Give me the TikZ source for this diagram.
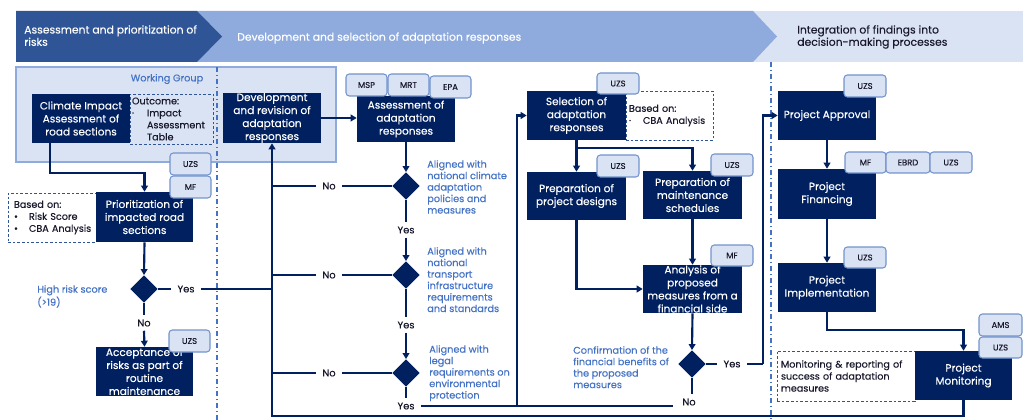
\documentclass[tikz,border=0pt]{standalone}
\usepackage{fontspec}
\setmainfont{Poppins}[FakeBold=0.25]
\usetikzlibrary{arrows.meta,shapes.geometric}
\newlength\pxu
\setlength\pxu{0.75pt}
\definecolor{navy}{RGB}{0,32,96}
\definecolor{bandA}{RGB}{47,85,151}
\definecolor{bandB}{RGB}{143,170,220}
\definecolor{bandC}{RGB}{218,227,243}
\definecolor{tagline}{RGB}{114,147,205}
\definecolor{lblue}{RGB}{68,114,196}
\definecolor{ink}{RGB}{25,25,45}
\newcommand\bxf{\fontsize{7.9}{9.75}\selectfont}
\newcommand\dbf{\fontsize{7.2}{9}\selectfont}
\newcommand\tgf{\fontsize{6.3}{7}\selectfont}
\newcommand\lbf{\fontsize{7.3}{8.6}\selectfont}
\newcommand\ynf{\fontsize{7.4}{8}\selectfont}
\newcommand\hdf{\fontsize{8.1}{9.2}\selectfont}
\hyphenpenalty=10000
\exhyphenpenalty=10000
\begin{document}
\begin{tikzpicture}[x=0.75pt,y=-0.75pt,
  rect/.style args={#1/#2/#3/#4}{minimum width={(#3-#1)*0.75pt}, minimum height={(#4-#2)*0.75pt}, at={({(#1+#3)/2},{(#2+#4)/2})}},
  box/.style={fill=navy, text=white, inner sep=0pt, align=center, font=\bxf},
  tag/.style={fill=bandC, draw=tagline, line width=0.8pt, rounded corners=2.5pt, inner sep=0pt, font=\tgf, text=ink},
  dbox/.style={draw=bandA, dash pattern=on 2pt off 1.5pt, line width=0.6pt, inner sep=0pt, align=left, text=ink, font=\dbf},
  dia/.style={diamond, fill=navy, minimum width=20.5pt, minimum height=20.5pt, inner sep=0pt},
  lbl/.style={text=lblue, font=\lbf, align=left, anchor=north west, inner sep=0pt},
  yn/.style={text=ink, font=\ynf, inner xsep=4.5pt, inner ysep=3pt},
  hdr/.style={font=\hdf, align=left, inner sep=0pt},
  ln/.style={draw=navy, line width=1.6pt},
  arr/.style={ln, -{Triangle[length=4.5pt,width=5pt]}},
  sep/.style={draw=lblue, line width=1pt, dash pattern=on 4pt off 2pt on 1pt off 2pt}
]
\useasboundingbox (0,0) rectangle (1023,420);
% banners
\fill[bandC] (740,11) rectangle (1023,62);
\fill[bandB] (197,11) -- (753,11) -- (777,36.5) -- (753,62) -- (197,62) -- cycle;
\fill[bandA] (16,11) -- (197,11) -- (222,36.5) -- (197,62) -- (16,62) -- cycle;
\node[hdr, text=white, anchor=north west] (h1) at (24,25) {Assessment and prioritization of\\risks};
\node[hdr, text=white, anchor=west] (h2) at (237,38) {Development and selection of adaptation responses};
\node[hdr, text=ink, anchor=north west] (h3) at (797,25) {Integration of findings into\\decision-making processes};
% working group
\draw[fill=bandC, draw=bandB, line width=1pt] (16,67) rectangle (336,162);
\node[text=lblue, font=\lbf, inner sep=0pt] (wg) at (167,79) {Working Group};
\draw[sep] (217,67) -- (217,420);
\draw[sep] (771,62) -- (771,420);
% dashed boxes
\node[dbox, fill=bandC, rect=130/94/213/144, text width=79\pxu] (outc) {Outcome:\\\makebox[15\pxu][l]{·}Impact\\\hspace*{15\pxu}Assessment\\\hspace*{15\pxu}Table};
\node[dbox, fill=white, rect=8/193/96/242, text width=76\pxu] (bas1) {Based on:\\\makebox[15\pxu][l]{•}\mbox{Risk Score}\\\makebox[15\pxu][l]{•}\mbox{CBA Analysis}};
\node[dbox, fill=white, rect=626/91/713/140, text width=81\pxu] (bas2) {Based on:\\\makebox[14\pxu][l]{·}\mbox{CBA Analysis}};
\node[dbox, fill=white, rect=777/351/915/401, text width=130\pxu] (mdb) {Monitoring \& reporting of\\success of adaptation\\measures};
% boxes
\node[box, rect=32/94/130/143] (ci) {Climate Impact\\Assessment of\\road sections};
\node[box, rect=223/93/321/143] (dev) {Development\\and revision of\\adaptation\\responses};
\node[box, rect=357/96/455/142] (asr) {Assessment of\\adaptation\\responses};
\node[box, rect=96/192/193/242] (prio) {Prioritization of\\impacted road\\sections};
\node[box, rect=96/347/193/396] (acc) {Acceptance of\\risks as part of\\routine\\maintenance};
\node[box, rect=527/91/626/140] (sel) {Selection of\\adaptation\\responses};
\node[box, rect=527/172/626/220] (des) {Preparation of\\project designs};
\node[box, rect=643/171/742/219] (mai) {Preparation of\\maintenance\\schedules};
\node[box, rect=643/265/742/313] (ana) {Analysis of\\proposed\\measures from a\\financial side};
\node[box, rect=778/91/876/140] (app) {Project Approval};
\node[box, rect=778/169/876/219] (fin) {Project\\Financing};
\node[box, rect=778/263/876/312] (imp) {Project\\Implementation};
\node[box, rect=915/351/1012/400] (mon) {Project\\Monitoring};
% tags
\node[tag, rect=170/153/211/175] (t1) {UZS};
\node[tag, rect=170/176/211/198] (t2) {MF};
\node[tag, rect=169/330/210/352] (t3) {UZS};
\node[tag, rect=346/74/387/96] (t4) {MSP};
\node[tag, rect=388/74/429/96] (t5) {MRT};
\node[tag, rect=430/76/471/98] (t6) {EPA};
\node[tag, rect=597/73/639/94] (t7) {UZS};
\node[tag, rect=597/155/639/177] (t8) {UZS};
\node[tag, rect=711/154/753/176] (t9) {UZS};
\node[tag, rect=711/245/753/266] (t10) {MF};
\node[tag, rect=844/75/886/97] (t11) {UZS};
\node[tag, rect=845/152/886/173] (t12) {MF};
\node[tag, rect=886/152/930/173] (t13) {EBRD};
\node[tag, rect=930/152/972/173] (t14) {UZS};
\node[tag, rect=844/247/886/268] (t15) {UZS};
\node[tag, rect=979/314/1022/336] (t16) {AMS};
\node[tag, rect=979/337/1022/358] (t17) {UZS};
% diamonds
\node[dia] (d0) at (144,289) {};
\node[dia] (d1) at (406,186) {};
\node[dia] (d2) at (406,275) {};
\node[dia] (d3) at (406,373) {};
\node[dia] (d4) at (692,364) {};
% blue labels
\node[lbl] (l0) at (37,285) {High risk score\\(>19)};
\node[lbl] (l1) at (427,160) {Aligned with\\national climate\\adaptation\\policies and\\measures};
\node[lbl] (l2) at (427,247) {Aligned with\\national\\transport\\infrastructure\\requirements\\and standards};
\node[lbl] (l3) at (429,345) {Aligned with\\legal\\requirements on\\environmental\\protection};
\node[lbl] (l4) at (573,346) {Confirmation of the\\financial benefits of\\the proposed\\measures};
% yes / no labels
\node[yn] (y0) at (186,289) {Yes};
\node[yn] (n0) at (144,323) {No};
\node[yn] (n1) at (329,186) {No};
\node[yn] (n2) at (329,275) {No};
\node[yn] (n3) at (329,373) {No};
\node[yn] (y1) at (406,230) {Yes};
\node[yn] (y2) at (406,325) {Yes};
\node[yn] (y3) at (406,406) {Yes};
\node[yn] (y4) at (732,364) {Yes};
\node[yn] (n4) at (689,402) {No};
\coordinate (bl) at (272,416);
\coordinate (j1) at (517,406);
\coordinate (e4) at (673,406);
\coordinate (j2) at (763,364);
% connectors: left column
\draw[arr] ([xshift=18\pxu]ci.south west) -- ++(0,30) -| (prio.north);
\draw[arr] (prio.south) -- (d0.north);
\draw[ln] (d0.east) -- (y0.west);
\draw[ln] (y0.east) -- (y0.east -| dev.south);
\draw[ln] (d0.south) -- (n0.north);
\draw[arr] (n0.south) -- (acc.north);
% main feedback line
\draw[arr] (mon.south) |- (bl) -- (dev.south);
\draw[arr] (dev.east) -- (dev.east -| asr.west);
% middle column
\draw[arr] (asr.south) -- (d1.north);
\draw[ln] (d1.south) -- (y1.north);
\draw[arr] (y1.south) -- (d2.north);
\draw[ln] (d2.south) -- (y2.north);
\draw[arr] (y2.south) -- (d3.north);
\draw[ln] (d3.south) -- (y3.north);
\draw[ln] (d1.west) -- (n1.east);
\draw[ln] (n1.west) -- (n1.west -| dev.south);
\draw[ln] (d2.west) -- (n2.east);
\draw[ln] (n2.west) -- (n2.west -| dev.south);
\draw[ln] (d3.west) -- (n3.east);
\draw[ln] (n3.west) -- (n3.west -| dev.south);
\draw[ln] (y3.east) -- (e4);
\draw[arr] (j1) |- (sel.west);
% selection column
\draw[arr] (sel.south) -- (des.north);
\draw[arr] ([yshift=-6pt]sel.south) -| (mai.north);
\draw[arr] (mai.south) -- (ana.north);
\draw[arr] (des.south) |- (ana.west);
\draw[arr] (ana.south) -- (d4.north);
\draw[ln] (d4.east) -- (y4.west);
\draw[ln] (y4.east) -- (j2);
\draw[arr] (j2) |- (app.west);
\draw[ln] (d4.south) -- (d4.south |- n4.north);
% right column
\draw[arr] (app.south) -- (fin.north);
\draw[arr] (fin.south) -- (imp.north);
\draw[arr] (imp.south) -- ++(0,18) -| (mon.north);
\end{tikzpicture}
\end{document}
